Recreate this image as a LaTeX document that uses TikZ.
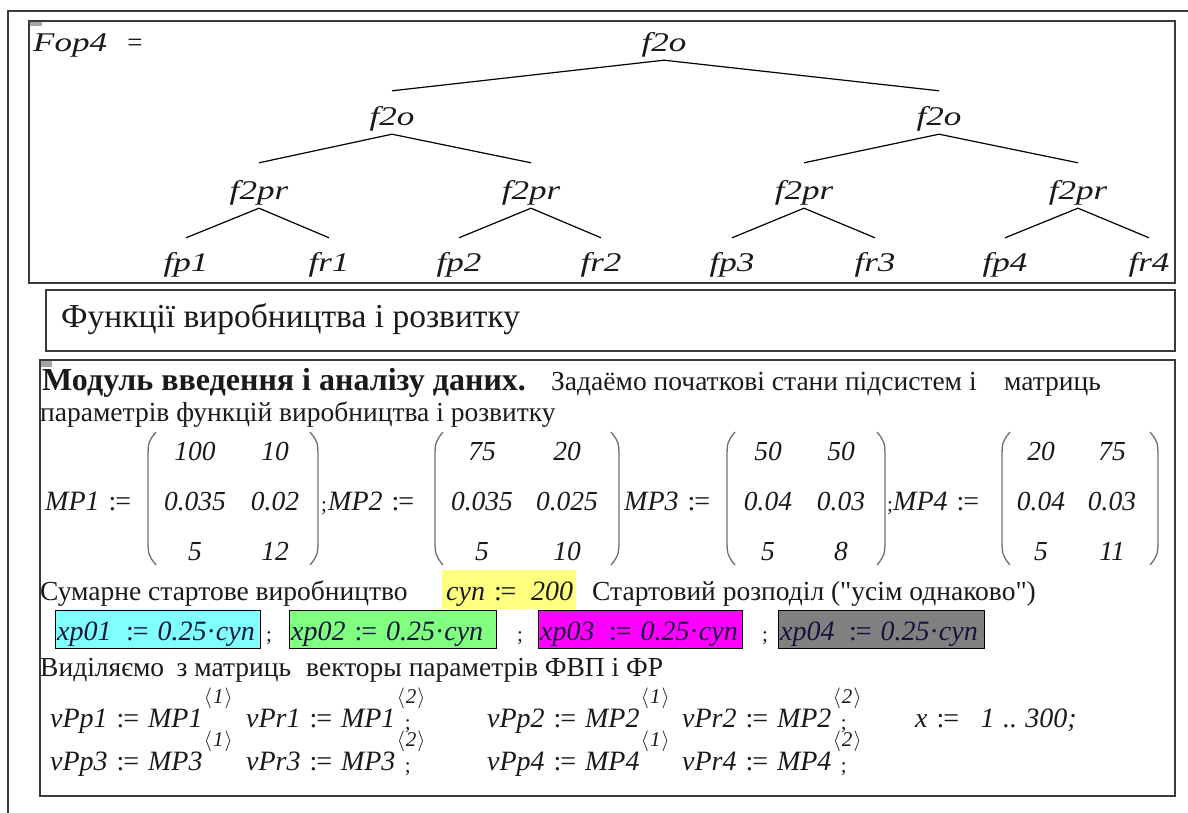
\documentclass[tikz,border=0pt]{standalone}
\usepackage{fontspec}
\setmainfont{Liberation Serif}
% a copy of the serif without TeX quote ligatures, for straight quotes
\newfontfamily\plainserif{Liberation Serif}
% a slightly widened serif for the operator tree
\newfontfamily\treefont{Liberation Serif}[FakeStretch=1.3]
\usetikzlibrary{calc}

\definecolor{rule}{HTML}{3A3A3A}
\definecolor{ink}{HTML}{1A1A1A}
\definecolor{mathink}{HTML}{14143C}
\definecolor{hlyellow}{HTML}{FFFF80}
\definecolor{hlcyan}{HTML}{80FFFF}
\definecolor{hlgreen}{HTML}{80FF80}
\definecolor{hlmagenta}{HTML}{FF00FF}
\definecolor{hlgrey}{HTML}{808080}
\definecolor{parcol}{HTML}{707070}

% assignment sign ":="
\newcommand\asg{\hspace{0.32em}{\upshape:\kern-0.04em=}\hspace{0.32em}}
% column selector <n>
\newcommand\colsel[1]{$\langle$\kern0.05em#1\kern0.05em$\rangle$}

\begin{document}
\begin{tikzpicture}[x=1pt,y=-1pt,
  region/.style={draw=rule,line width=1.6pt},
  outerframe/.style={draw=rule,line width=2pt},
  marker/.style={fill=black!35,draw=none},
  lbl/.style={font=\fontsize{27}{30}\selectfont\treefont\itshape,text=ink,inner sep=0pt,
    anchor=base,text height=19pt,text depth=8pt},
  branch/.style={draw=black,line width=1.2pt},
  txt/.style={font=\fontsize{27.5}{30}\selectfont,text=ink,inner sep=0pt,anchor=base west},
  mth/.style={font=\fontsize{28}{30}\selectfont\itshape,text=ink,inner sep=0pt,anchor=base west},
  cell/.style={font=\fontsize{27.5}{30}\selectfont\itshape,text=ink,inner sep=0pt,anchor=base},
  sup/.style={font=\fontsize{21}{22}\selectfont\itshape,text=ink,inner sep=0pt,anchor=base west},
  semi/.style={font=\fontsize{21}{22}\selectfont,text=ink,inner sep=0pt,anchor=base west},
  paren/.style={draw=parcol,line width=1.3pt},
  hlbox/.style={draw=black,line width=1pt},
  boxtxt/.style={font=\fontsize{28}{30}\selectfont\itshape,text=mathink,inner sep=0pt,anchor=base west}
]
\useasboundingbox (0,0) rectangle (1188,813);
\fill[white] (0,0) rectangle (1188,813);

% outer page frame
\draw[outerframe] (8,813) -- (8,11) -- (1188,11);

% regions
\draw[region] (29,21) rectangle (1175,283);
\fill[marker] (30,22) rectangle (42,26);
\draw[region] (46,290) rectangle (1175,351);
\draw[region] (40,360) rectangle (1175,796);
\fill[marker] (41,361) rectangle (52,367);

% ---------------- operator tree ----------------
\node[lbl,anchor=base west] (fop) at (33,52) {Fop4};
\node[lbl,font=\fontsize{27}{30}\selectfont] (eq) at (135,52) {=};

\node[lbl] (r) at (664,52) {f2o};
\node[lbl] (a) at (392,126) {f2o};
\node[lbl] (b) at (939,126) {f2o};
\node[lbl] (a1) at (259,200) {f2pr};
\node[lbl] (a2) at (531,200) {f2pr};
\node[lbl] (b1) at (804,200) {f2pr};
\node[lbl] (b2) at (1078,200) {f2pr};
\node[lbl] (p1) at (186,271) {fp1};
\node[lbl] (q1) at (329,271) {fr1};
\node[lbl] (p2) at (459,271) {fp2};
\node[lbl] (q2) at (601,271) {fr2};
\node[lbl] (p3) at (732,271) {fp3};
\node[lbl] (q3) at (875,271) {fr3};
\node[lbl] (p4) at (1005,271) {fp4};
\node[lbl] (q4) at (1149,271) {fr4};

\draw[branch] ([yshift=16pt]a.north) -- (r.south) -- ([yshift=16pt]b.north);
\draw[branch] ([yshift=18pt]a1.north) -- (a.south) -- ([yshift=18pt]a2.north);
\draw[branch] ([yshift=18pt]b1.north) -- (b.south) -- ([yshift=18pt]b2.north);
\draw[branch] ([yshift=14pt]p1.north) -- (a1.south) -- ([yshift=14pt]q1.north);
\draw[branch] ([yshift=14pt]p2.north) -- (a2.south) -- ([yshift=14pt]q2.north);
\draw[branch] ([yshift=14pt]p3.north) -- (b1.south) -- ([yshift=14pt]q3.north);
\draw[branch] ([yshift=14pt]p4.north) -- (b2.south) -- ([yshift=14pt]q4.north);

% ---------------- heading ----------------
\node[txt,font=\fontsize{33.5}{36}\selectfont] (title) at (61,327) {Функції виробництва і розвитку};

% ---------------- data module ----------------
\node[txt,font=\fontsize{32}{34}\selectfont\bfseries] (mhead) at (42,390) {Модуль введення і аналізу даних.};
\node[txt] (mhead2) at (551,390) {Задаёмо початкові стани підсистем і\hspace{1em}матриць};
\node[txt] (mline2) at (40,421) {параметрів функцій виробництва і розвитку};

% matrix MP1
\node[mth] (mp1) at (45,510) {MP1\asg};
\node[cell] at (195,460) {100};   \node[cell] at (275,460) {10};
\node[cell] at (195,510) {0.035}; \node[cell] at (275,510) {0.02};
\node[cell] at (195,560) {5};     \node[cell] at (275,560) {12};
\draw[paren] (156,432) .. controls (148,442) .. (148,462) -- (148,535) .. controls (148,555) .. (156,565);
\draw[paren] (310,432) .. controls (318,442) .. (318,462) -- (318,535) .. controls (318,555) .. (310,565);
\node[semi] at (321,511) {;};

% matrix MP2
\node[mth] (mp2) at (328,510) {MP2\asg};
\node[cell] at (482,460) {75};    \node[cell] at (567,460) {20};
\node[cell] at (482,510) {0.035}; \node[cell] at (567,510) {0.025};
\node[cell] at (482,560) {5};     \node[cell] at (567,560) {10};
\draw[paren] (443,432) .. controls (435,442) .. (435,462) -- (435,535) .. controls (435,555) .. (443,565);
\draw[paren] (611,432) .. controls (619,442) .. (619,462) -- (619,535) .. controls (619,555) .. (611,565);

% matrix MP3
\node[mth] (mp3) at (624,510) {MP3\asg};
\node[cell] at (768,460) {50};   \node[cell] at (841,460) {50};
\node[cell] at (768,510) {0.04}; \node[cell] at (841,510) {0.03};
\node[cell] at (768,560) {5};    \node[cell] at (841,560) {8};
\draw[paren] (735,432) .. controls (727,442) .. (727,462) -- (727,535) .. controls (727,555) .. (735,565);
\draw[paren] (877,432) .. controls (885,442) .. (885,462) -- (885,535) .. controls (885,555) .. (877,565);
\node[semi] at (887,511) {;};

% matrix MP4
\node[mth] (mp4) at (893,510) {MP4\asg};
\node[cell] at (1041,460) {20};   \node[cell] at (1112,460) {75};
\node[cell] at (1041,510) {0.04}; \node[cell] at (1112,510) {0.03};
\node[cell] at (1041,560) {5};    \node[cell] at (1112,560) {11};
\draw[paren] (1010,432) .. controls (1002,442) .. (1002,462) -- (1002,535) .. controls (1002,555) .. (1010,565);
\draw[paren] (1150,432) .. controls (1158,442) .. (1158,462) -- (1158,535) .. controls (1158,555) .. (1150,565);

% starting production
\node[txt] (sum) at (40,600) {Сумарне стартове виробництво};
\fill[hlyellow] (442,570) rectangle (576,609);
\node[mth] (cyn) at (446,600) {cyn\asg\hspace{0.2em}200};
\node[txt,font=\fontsize{27.5}{30}\selectfont\plainserif] (dist) at (592,600) {Стартовий розподіл ("усім однаково")};

% initial shares
\draw[hlbox,fill=hlcyan] (55,610) rectangle (260,648);
\node[boxtxt] (x1) at (57,640) {xp01\hspace{0.2em}\asg 0.25{\upshape·}cyn};
\node[semi] at (266,641) {;};
\draw[hlbox,fill=hlgreen] (289,610) rectangle (496,648);
\node[boxtxt] (x2) at (291,640) {xp02\asg 0.25{\upshape·}cyn};
\node[semi] at (517,641) {;};
\draw[hlbox,fill=hlmagenta] (538,610) rectangle (742,648);
\node[boxtxt] (x3) at (540,640) {xp03\hspace{0.2em}\asg 0.25{\upshape·}cyn};
\node[semi] at (762,641) {;};
\draw[hlbox,fill=hlgrey] (778,610) rectangle (984,648);
\node[boxtxt] (x4) at (780,640) {xp04\hspace{0.2em}\asg 0.25{\upshape·}cyn};

% parameter vectors
\node[txt] (sel) at (40,676) {Виділяємо\hspace{0.2em} з матриць\hspace{0.3em} векторы параметрів ФВП і ФР};

\node[mth] (v1) at (50,727) {vPp1\asg MP1};
\node[sup] (s1) at ($(v1.base east)+(1,-24)$) {\colsel{1}};
\node[mth] (v2) at (246,727) {vPr1\asg MP1};
\node[sup] (s2) at ($(v2.base east)+(1,-24)$) {\colsel{2}};
\node[semi] (c1) at ($(v2.base east)+(9,2)$) {;};
\node[mth] (v3) at (487,727) {vPp2\asg MP2};
\node[sup] (s3) at ($(v3.base east)+(1,-24)$) {\colsel{1}};
\node[mth] (v4) at (682,727) {vPr2\asg MP2};
\node[sup] (s4) at ($(v4.base east)+(1,-24)$) {\colsel{2}};
\node[semi] (c2) at ($(v4.base east)+(9,2)$) {;};
\node[mth] (xr) at (915,727) {x\asg\hspace{0.45em}1\hspace{0.3em}..\hspace{0.3em}300;};

\node[mth] (v5) at (50,770) {vPp3\asg MP3};
\node[sup] (s5) at ($(v5.base east)+(1,-24)$) {\colsel{1}};
\node[mth] (v6) at (246,770) {vPr3\asg MP3};
\node[sup] (s6) at ($(v6.base east)+(1,-24)$) {\colsel{2}};
\node[semi] (c3) at ($(v6.base east)+(9,2)$) {;};
\node[mth] (v7) at (487,770) {vPp4\asg MP4};
\node[sup] (s7) at ($(v7.base east)+(1,-24)$) {\colsel{1}};
\node[mth] (v8) at (682,770) {vPr4\asg MP4};
\node[sup] (s8) at ($(v8.base east)+(1,-24)$) {\colsel{2}};
\node[semi] (c4) at ($(v8.base east)+(9,2)$) {;};
\end{tikzpicture}
\end{document}
